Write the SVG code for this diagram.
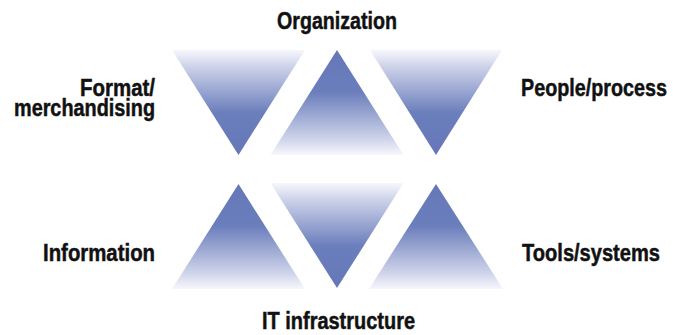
<svg xmlns="http://www.w3.org/2000/svg" width="673" height="335" viewBox="0 0 673 335">
<style>
.lbl{font-family:"Liberation Sans",Arial,sans-serif;font-weight:bold;font-size:20px;fill:#111;stroke:#111;stroke-width:0.4px;}
</style>
<defs>
<linearGradient id="gDown" x1="0" y1="0" x2="0" y2="1">
<stop offset="0" stop-color="#f7f7fc"/>
<stop offset="0.15" stop-color="#cfd4ea"/>
<stop offset="0.6" stop-color="#6b7ebc"/>
<stop offset="1" stop-color="#6577b8"/>
</linearGradient>
<linearGradient id="gUp" x1="0" y1="1" x2="0" y2="0">
<stop offset="0" stop-color="#f7f7fc"/>
<stop offset="0.15" stop-color="#cfd4ea"/>
<stop offset="0.6" stop-color="#6b7ebc"/>
<stop offset="1" stop-color="#6577b8"/>
</linearGradient>
</defs>
<rect width="673" height="335" fill="#ffffff"/>
<g id="format">
<polygon points="172,50 305,50 238.5,155" fill="url(#gDown)"/>
<text class="lbl" transform="translate(155,96) scale(1,1.18)" text-anchor="end" textLength="75" lengthAdjust="spacingAndGlyphs">Format/</text>
<text class="lbl" transform="translate(155,115.5) scale(1,1.18)" text-anchor="end" textLength="141" lengthAdjust="spacingAndGlyphs">merchandising</text>
</g>
<g id="organization">
<polygon points="337,50 270.5,155 403.5,155" fill="url(#gUp)"/>
<text class="lbl" transform="translate(277,28.5) scale(1,1.18)" textLength="120" lengthAdjust="spacingAndGlyphs">Organization</text>
</g>
<g id="people">
<polygon points="370,50 502,50 436,155" fill="url(#gDown)"/>
<text class="lbl" transform="translate(521,96) scale(1,1.18)" textLength="146" lengthAdjust="spacingAndGlyphs">People/process</text>
</g>
<g id="information">
<polygon points="238.5,184 172,289 305,289" fill="url(#gUp)"/>
<text class="lbl" transform="translate(155,261) scale(1,1.18)" text-anchor="end" textLength="112" lengthAdjust="spacingAndGlyphs">Information</text>
</g>
<g id="it-infrastructure">
<polygon points="270.5,183 403.5,183 337,288" fill="url(#gDown)"/>
<text class="lbl" transform="translate(262,329) scale(1,1.18)" textLength="153" lengthAdjust="spacingAndGlyphs">IT infrastructure</text>
</g>
<g id="tools">
<polygon points="436,184 369,289 503,289" fill="url(#gUp)"/>
<text class="lbl" transform="translate(522,261) scale(1,1.18)" textLength="138" lengthAdjust="spacingAndGlyphs">Tools/systems</text>
</g>
<g id="connectors"></g>
</svg>
